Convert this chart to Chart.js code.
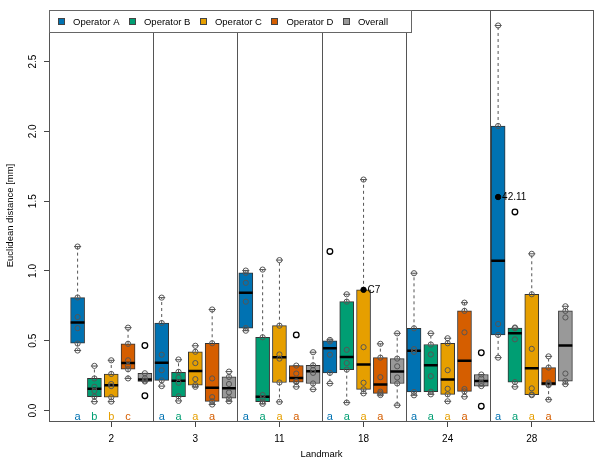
<!DOCTYPE html>
<html><head><meta charset="utf-8">
<script src="https://cdn.jsdelivr.net/npm/chart.js@4"></script>
<style>html,body{margin:0;padding:0;background:#fff}canvas{display:block}</style>
</head><body>
<canvas id="c" width="600" height="463" style="width:600px;height:463px"></canvas>
<script>
// ---------- data ----------
const landmarks = ['2', '3', '11', '18', '24', '28'];
const operators = ['Operator A', 'Operator B', 'Operator C', 'Operator D', 'Overall'];
const boxColors = ['#0072B2', '#009E73', '#E69F00', '#D55E00', '#999999'];
const yTickValues = [0, 0.5, 1.0, 1.5, 2.0, 2.5];

// [operator][landmark]
const whiskerLow = [
  [0.430, 0.175, 0.572, 0.194, 0.109, 0.379],
  [0.064, 0.069, 0.048, 0.057, 0.116, 0.170],
  [0.064, 0.170, 0.062, 0.123, 0.066, 0.113],
  [0.230, 0.043, 0.170, 0.111, 0.099, 0.078],
  [0.208, 0.066, 0.152, 0.038, 0.175, 0.189]
];
const quartile1 = [
  [0.482, 0.216, 0.591, 0.270, 0.133, 0.542],
  [0.099, 0.099, 0.064, 0.293, 0.135, 0.204],
  [0.095, 0.182, 0.201, 0.152, 0.116, 0.113],
  [0.296, 0.066, 0.204, 0.123, 0.137, 0.182],
  [0.208, 0.088, 0.194, 0.194, 0.175, 0.211]
];
const medians = [
  [0.631, 0.343, 0.844, 0.447, 0.428, 1.074],
  [0.156, 0.213, 0.099, 0.383, 0.324, 0.553],
  [0.182, 0.284, 0.381, 0.329, 0.222, 0.303],
  [0.340, 0.163, 0.234, 0.187, 0.357, 0.194],
  [0.222, 0.159, 0.282, 0.279, 0.211, 0.466]
];
const quartile3 = [
  [0.809, 0.627, 0.986, 0.499, 0.589, 2.039],
  [0.230, 0.274, 0.525, 0.780, 0.473, 0.591],
  [0.262, 0.421, 0.608, 0.865, 0.482, 0.833],
  [0.478, 0.482, 0.322, 0.379, 0.714, 0.308],
  [0.267, 0.241, 0.324, 0.372, 0.258, 0.714]
];
const whiskerHigh = [
  [1.175, 0.809, 1.003, 0.506, 0.984, 2.759],
  [0.319, 0.364, 1.010, 0.833, 0.553, 0.591],
  [0.360, 0.464, 1.078, 1.655, 0.518, 1.123],
  [0.594, 0.724, 0.322, 0.478, 0.773, 0.388],
  [0.267, 0.279, 0.418, 0.553, 0.258, 0.747]
];
// individual observations [operator][landmark][]
const observations = [
  [[1.175, 0.81, 0.67, 0.59, 0.48, 0.43], [0.809, 0.627, 0.40, 0.289, 0.216, 0.175], [1.003, 0.986, 0.915, 0.78, 0.591, 0.572],
   [0.506, 0.495, 0.40, 0.27, 0.194], [0.984, 0.589, 0.44, 0.42, 0.133, 0.109], [2.759, 2.039, 0.62, 0.542, 0.379]],
  [[0.32, 0.23, 0.17, 0.14, 0.10, 0.064], [0.366, 0.277, 0.237, 0.199, 0.102, 0.069], [1.01, 0.525, 0.111, 0.088, 0.064, 0.048],
   [0.833, 0.78, 0.435, 0.34, 0.293, 0.057], [0.553, 0.473, 0.402, 0.246, 0.135, 0.116], [0.595, 0.59, 0.51, 0.204, 0.17]],
  [[0.36, 0.262, 0.19, 0.175, 0.095, 0.064], [0.464, 0.421, 0.34, 0.225, 0.182, 0.17], [1.078, 0.608, 0.402, 0.372, 0.201, 0.062],
   [1.655, 0.454, 0.199, 0.152, 0.123], [0.518, 0.482, 0.289, 0.156, 0.116, 0.066], [1.123, 0.833, 0.442, 0.159, 0.115, 0.11]],
  [[0.594, 0.478, 0.36, 0.32, 0.296, 0.23], [0.724, 0.482, 0.23, 0.096, 0.066, 0.043], [0.322, 0.265, 0.21, 0.204, 0.17],
   [0.478, 0.379, 0.239, 0.135, 0.123, 0.111], [0.773, 0.714, 0.56, 0.154, 0.137, 0.099], [0.388, 0.308, 0.20, 0.19, 0.182, 0.078]],
  [[0.267, 0.23, 0.215, 0.208], [0.279, 0.241, 0.19, 0.13, 0.088, 0.066], [0.418, 0.324, 0.29, 0.27, 0.194, 0.152],
   [0.553, 0.372, 0.317, 0.237, 0.194, 0.038], [0.258, 0.23, 0.195, 0.175], [0.747, 0.714, 0.667, 0.265, 0.211, 0.189]]
];
// outliers [operator][landmark][]
const outliers = [
  [[], [], [], [1.14], [], []],
  [[], [], [], [], [], [1.423]],
  [[], [], [], [], [], []],
  [[], [], [0.542], [], [], []],
  [[0.466, 0.106], [], [], [], [0.414, 0.031], []]
];
// labelled observations
const flaggedOperator = [2, 0];
const flaggedLandmark = [3, 5];
const flaggedValue = [0.865, 1.53];
const flaggedLabel = ['C7', '42.11'];
// significance letters [operator][landmark]
const groupLetters = [
  ['a', 'a', 'a', 'a', 'a', 'a'],
  ['b', 'a', 'a', 'a', 'a', 'a'],
  ['b', 'a', 'a', 'a', 'a', 'a'],
  ['c', 'a', 'a', 'a', 'a', 'a']
];

// ---------- helpers ----------
const FONT = "'Liberation Sans', Arial, sans-serif";
const nOps = operators.length;
const posOf = (li, oi) => li * nOps + oi + 1;
const HALF = 0.41, CAP = 0.21;
const GAP = (x) => ({ x: x, y: null });

const datasets = [];
operators.forEach((op, oi) => {
  datasets.push({
    type: 'bar', label: op, order: 6,
    data: landmarks.map((l, li) => ({ x: posOf(li, oi), y: [quartile1[oi][li], quartile3[oi][li]] })),
    backgroundColor: boxColors[oi], borderColor: '#333', borderWidth: 1, borderSkipped: false,
    barThickness: 14, grouped: false
  });
});
const whiskerData = [], capData = [], medianData = [], pointData = [], outlierData = [];
operators.forEach((op, oi) => {
  landmarks.forEach((l, li) => {
    const p = posOf(li, oi);
    whiskerData.push({ x: p, y: quartile3[oi][li] }, { x: p, y: whiskerHigh[oi][li] }, GAP(p));
    whiskerData.push({ x: p, y: quartile1[oi][li] }, { x: p, y: whiskerLow[oi][li] }, GAP(p));
    capData.push({ x: p - CAP, y: whiskerHigh[oi][li] }, { x: p + CAP, y: whiskerHigh[oi][li] }, GAP(p));
    capData.push({ x: p - CAP, y: whiskerLow[oi][li] }, { x: p + CAP, y: whiskerLow[oi][li] }, GAP(p));
    medianData.push({ x: p - HALF, y: medians[oi][li] }, { x: p + HALF, y: medians[oi][li] }, GAP(p));
    observations[oi][li].forEach(v => pointData.push({ x: p, y: v }));
    outliers[oi][li].forEach(v => outlierData.push({ x: p, y: v }));
  });
});
const flaggedData = flaggedValue.map((v, i) => ({ x: posOf(flaggedLandmark[i], flaggedOperator[i]), y: v }));

datasets.push({ type: 'line', label: 'whiskers', order: 5, data: whiskerData, borderColor: '#555', borderWidth: 1,
  borderDash: [3, 3], pointRadius: 0, spanGaps: false, fill: false });
datasets.push({ type: 'line', label: 'caps', order: 5, data: capData, borderColor: '#555', borderWidth: 1,
  pointRadius: 0, spanGaps: false, fill: false });
datasets.push({ type: 'line', label: 'medians', order: 4, data: medianData, borderColor: '#000', borderWidth: 2.5,
  pointRadius: 0, spanGaps: false, fill: false, borderCapStyle: 'butt' });
datasets.push({ type: 'scatter', label: 'obs', order: 3, data: pointData, pointRadius: 2.6, pointBorderWidth: 1,
  pointBackgroundColor: 'rgba(0,0,0,0)', pointBorderColor: '#555', showLine: false });
datasets.push({ type: 'scatter', label: 'outliers', order: 2, data: outlierData, pointRadius: 2.8, pointBorderWidth: 1.3,
  pointBackgroundColor: 'rgba(0,0,0,0)', pointBorderColor: '#000', showLine: false });
datasets.push({ type: 'scatter', label: 'flagged', order: 1, data: flaggedData, pointRadius: 2.7, pointBorderWidth: 1,
  pointBackgroundColor: '#000', pointBorderColor: '#000', showLine: false });

// ---------- plugins ----------
const decor = {
  id: 'decor',
  beforeDatasetsDraw(chart) {
    const { ctx, chartArea: a, scales: { x } } = chart;
    ctx.save();
    ctx.strokeStyle = '#555'; ctx.lineWidth = 1;
    for (let li = 1; li < landmarks.length; li++) {
      const px = Math.round(x.getPixelForValue(li * nOps + 0.5)) + 0.5;
      ctx.beginPath(); ctx.moveTo(px, a.top); ctx.lineTo(px, a.bottom); ctx.stroke();
    }
    ctx.restore();
  },
  afterDatasetsDraw(chart) {
    const { ctx, chartArea: a, scales: { x, y } } = chart;
    ctx.save();
    // letters
    ctx.font = '11px ' + FONT; ctx.textAlign = 'center'; ctx.textBaseline = 'alphabetic';
    groupLetters.forEach((row, oi) => row.forEach((t, li) => {
      ctx.fillStyle = boxColors[oi];
      ctx.fillText(t, x.getPixelForValue(posOf(li, oi)), y.getPixelForValue(-0.067));
    }));
    // flagged labels
    ctx.font = '10px ' + FONT; ctx.fillStyle = '#000'; ctx.textAlign = 'left'; ctx.textBaseline = 'middle';
    flaggedLabel.forEach((t, i) => {
      ctx.fillText(t, x.getPixelForValue(flaggedData[i].x) + 4, y.getPixelForValue(flaggedValue[i]) + 0.5);
    });
    // frame
    ctx.strokeStyle = '#555'; ctx.lineWidth = 1;
    ctx.strokeRect(Math.round(a.left) + 0.5, Math.round(a.top) + 0.5, Math.round(a.right - a.left) - 1, Math.round(a.bottom - a.top));
    // legend
    ctx.font = '9.5px ' + FONT;
    let cx = a.left + 9;
    const lx = Math.round(a.left) + 0.5, ly = Math.round(a.top) + 0.5, lh = 22;
    const items = operators.map(t => ({ t, w: ctx.measureText(t).width }));
    let endX = cx;
    items.forEach((it, i) => { endX = cx + 15 + it.w; cx = endX + 9.5; });
    const boxW = Math.round(endX + 23 - lx);
    ctx.fillStyle = '#fff';
    ctx.fillRect(lx, ly, boxW, lh);
    ctx.strokeStyle = '#666';
    ctx.strokeRect(lx, ly, boxW, lh);
    ctx.textBaseline = 'middle'; ctx.textAlign = 'left';
    cx = a.left + 9;
    items.forEach((it, i) => {
      ctx.fillStyle = boxColors[i];
      ctx.fillRect(Math.round(cx) + 0.5, ly + 8, 6, 6);
      ctx.strokeStyle = '#444';
      ctx.strokeRect(Math.round(cx) + 0.5, ly + 8, 6, 6);
      ctx.fillStyle = '#000';
      ctx.fillText(it.t, cx + 15, ly + 11.5);
      cx += 15 + it.w + 9.5;
    });
    ctx.restore();
  }
};

Chart.defaults.font.family = FONT;
Chart.defaults.font.size = 10;
Chart.defaults.color = '#000';

new Chart(document.getElementById('c'), {
  type: 'bar',
  data: { datasets },
  options: {
    responsive: false, animation: false, events: [],
    layout: { padding: { top: 6, right: 6, left: 0, bottom: 0 } },
    plugins: { legend: { display: false }, tooltip: { enabled: false } },
    scales: {
      x: {
        type: 'linear', min: -0.7, max: 31.7, offset: false,
        afterBuildTicks: s => { s.ticks = landmarks.map((l, li) => ({ value: posOf(li, 2) })); },
        afterFit: s => { s.height = 42; },
        ticks: { callback: (v, i) => landmarks[i], autoSkip: false, maxRotation: 0, padding: 6, font: { size: 10 } },
        grid: { drawOnChartArea: false, tickLength: 6, color: '#444', offset: false },
        border: { display: true, color: '#555' },
        title: { display: true, text: 'Landmark', font: { size: 9.5 }, padding: { top: 0, bottom: 3 } }
      },
      y: {
        type: 'linear', min: -0.075, max: 2.87,
        afterBuildTicks: s => { s.ticks = yTickValues.map(v => ({ value: v })); },
        afterFit: s => { s.width = 49; },
        ticks: { callback: v => v.toFixed(1), minRotation: 90, maxRotation: 90, crossAlign: 'center', padding: 4, font: { size: 10 } },
        grid: { drawOnChartArea: false, tickLength: 5, color: '#444' },
        border: { display: true, color: '#555' },
        title: { display: true, text: 'Euclidean distance [mm]', font: { size: 9.5 }, padding: { top: 5, bottom: 0 } }
      }
    }
  },
  plugins: [decor]
});
</script>
</body></html>
